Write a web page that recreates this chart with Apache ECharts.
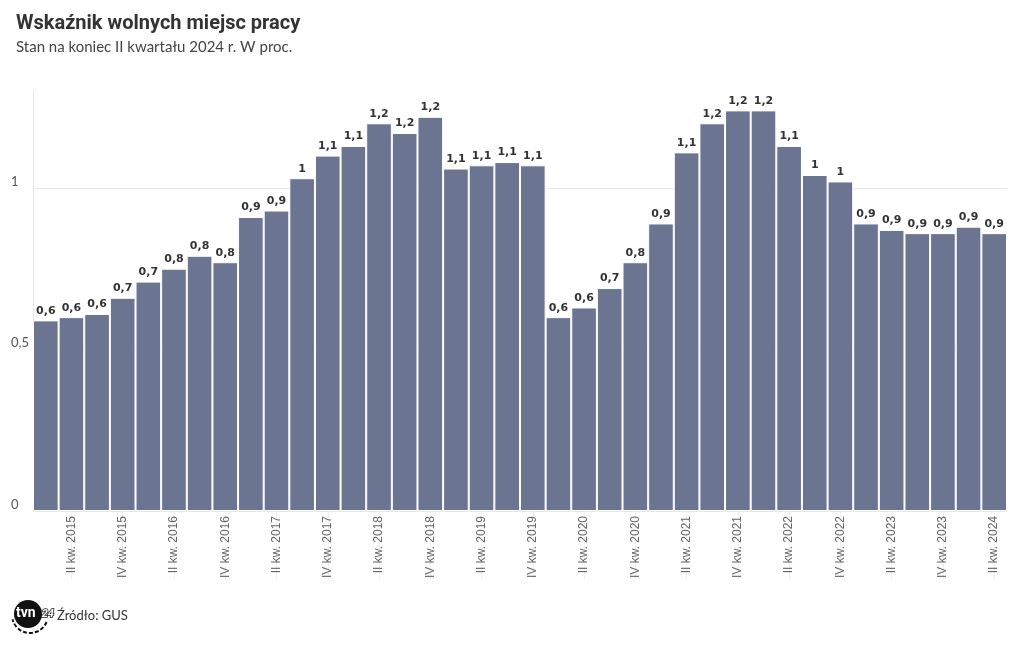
<!DOCTYPE html>
<html>
<head>
<meta charset="utf-8">
<script src="https://cdn.jsdelivr.net/npm/echarts@6/dist/echarts.min.js"></script>
<style>
  html, body { margin: 0; padding: 0; background: #fff; }
  #chart { width: 1020px; height: 650px; }
</style>
</head>
<body>
<div id="chart"></div>
<script>
// kwartały I kw. 2015 - II kw. 2024
const categories = [
  'I kw. 2015', 'II kw. 2015', 'III kw. 2015', 'IV kw. 2015',
  'I kw. 2016', 'II kw. 2016', 'III kw. 2016', 'IV kw. 2016',
  'I kw. 2017', 'II kw. 2017', 'III kw. 2017', 'IV kw. 2017',
  'I kw. 2018', 'II kw. 2018', 'III kw. 2018', 'IV kw. 2018',
  'I kw. 2019', 'II kw. 2019', 'III kw. 2019', 'IV kw. 2019',
  'I kw. 2020', 'II kw. 2020', 'III kw. 2020', 'IV kw. 2020',
  'I kw. 2021', 'II kw. 2021', 'III kw. 2021', 'IV kw. 2021',
  'I kw. 2022', 'II kw. 2022', 'III kw. 2022', 'IV kw. 2022',
  'I kw. 2023', 'II kw. 2023', 'III kw. 2023', 'IV kw. 2023',
  'I kw. 2024', 'II kw. 2024'
]

// wskaźnik wolnych miejsc pracy, w proc.
const values = [
  0.59, 0.60, 0.61, 0.66,
  0.71, 0.75, 0.79, 0.77,
  0.91, 0.93, 1.03, 1.10,
  1.13, 1.20, 1.17, 1.22,
  1.06, 1.07, 1.08, 1.07,
  0.60, 0.63, 0.69, 0.77,
  0.89, 1.11, 1.20, 1.24,
  1.24, 1.13, 1.04, 1.02,
  0.89, 0.87, 0.86, 0.86,
  0.88, 0.86
]

const yTicks = [0, 0.5, 1]

const fmt = v => String(Number(v.toFixed(1))).replace('.', ',')
const everyOther = i => i % 2 === 1

const chart = echarts.init(document.getElementById('chart'))
chart.setOption({
  animation: false,
  backgroundColor: '#fff',
  title: {
    text: 'Wskaźnik wolnych miejsc pracy',
    subtext: 'Stan na koniec II kwartału 2024 r. W proc.',
    left: 11,
    top: 9,
    itemGap: 6,
    textStyle: {
      fontFamily: 'Roboto',
      fontWeight: 'bold',
      fontSize: 20,
      color: '#333'
    },
    subtextStyle: {
      fontFamily: 'Lato',
      fontSize: 15,
      color: '#444'
    }
  },
  grid: {
    left: 33,
    right: 13,
    top: 91,
    bottom: 139
  },
  xAxis: {
    type: 'category',
    data: categories,
    axisLine: { show: false },
    axisTick: {
      show: true,
      alignWithLabel: true,
      interval: everyOther,
      length: 68,
      lineStyle: { color: '#f0f0f0' }
    },
    axisLabel: {
      interval: everyOther,
      rotate: 90,
      margin: 5,
      padding: [0, 0, 16, 0],
      fontFamily: 'Liberation Sans',
      fontSize: 12,
      color: '#666'
    }
  },
  yAxis: {
    type: 'value',
    min: 0,
    max: 1.3,
    interval: 0.5,
    axisLine: { show: true, lineStyle: { color: '#e6e6e6' } },
    axisTick: { show: false },
    splitLine: { show: true, showMaxLine: false, lineStyle: { color: '#e8e8e8' } },
    axisLabel: {
      showMaxLabel: false,
      align: 'left',
      verticalAlign: 'bottom',
      margin: 22,
      fontFamily: 'Lato',
      fontSize: 13,
      color: '#555',
      formatter: v => (yTicks.includes(v) ? fmt(v) : '')
    }
  },
  series: [
    {
      type: 'bar',
      data: values,
      barCategoryGap: '0%',
      itemStyle: {
        color: '#6b7592',
        borderColor: '#ffffff',
        borderWidth: 1
      },
      label: {
        show: true,
        position: 'top',
        distance: 4,
        fontFamily: 'DejaVu Sans',
        fontWeight: 'bold',
        fontSize: 11,
        color: '#333',
        formatter: p => fmt(p.value)
      }
    }
  ],
  graphic: [
    // logo tvn24 (uproszczone)
    {
      type: 'arc',
      shape: { cx: 30, cy: 615, r: 18, startAngle: 0.4, endAngle: 2.9 },
      style: { stroke: '#111', lineWidth: 2, lineDash: [4, 2], fill: null }
    },
    {
      type: 'circle',
      shape: { cx: 28, cy: 614, r: 14 },
      style: { fill: '#111' }
    },
    {
      type: 'text',
      left: 16,
      top: 606,
      style: { text: 'tvn', fill: '#fff', font: 'bold 14px Roboto' }
    },
    {
      type: 'text',
      left: 41,
      top: 608,
      style: { text: '24', fill: '#fff', stroke: '#111', lineWidth: 1.5, font: 'italic bold 11px Roboto' }
    },
    {
      type: 'text',
      left: 57,
      top: 609,
      style: { text: 'Źródło: GUS', fill: '#333', font: '13px Lato' }
    }
  ]
})
</script>
</body>
</html>
